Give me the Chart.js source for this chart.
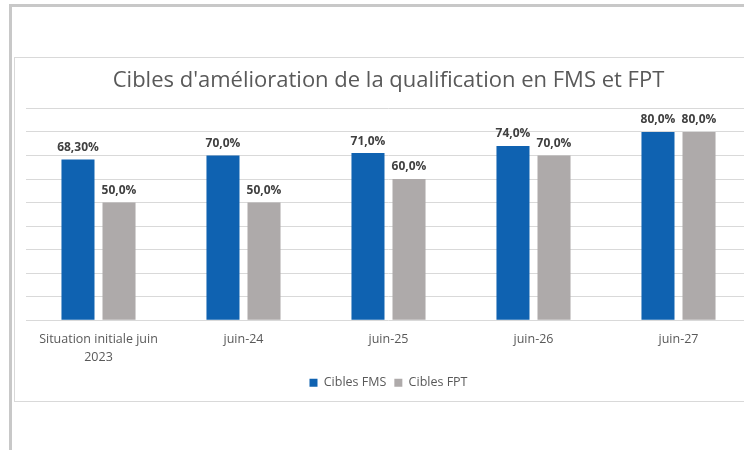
<!DOCTYPE html>
<html>
<head>
<meta charset="utf-8">
<script src="https://cdn.jsdelivr.net/npm/chart.js@4/dist/chart.umd.min.js"></script>
<style>
    html, body { margin: 0; padding: 0; background: #ffffff; overflow: hidden; }
    body { width: 744px; height: 450px; position: relative; }
    .frame {
        position: absolute; left: 9px; top: 4px; width: 760px; height: 460px;
        border-left: 3px solid #c8c8c8; border-top: 3px solid #c8c8c8;
    }
    .box {
        position: absolute; left: 14px; top: 57px; width: 760px; height: 343px;
        border: 1px solid #d9d9d9; background: #ffffff;
    }
    .box canvas { position: absolute; left: 0; top: 0; }
</style>
</head>
<body>
<div class="frame"></div>
<div class="box">
    <canvas id="qualifChart" width="742" height="341"></canvas>
</div>
<script>
    // Data
    const categories = [['Situation initiale juin', '2023'], 'juin-24', 'juin-25', 'juin-26', 'juin-27'];
    const fmsValues = [68.3, 70, 71, 74, 80];
    const fptValues = [50, 50, 60, 70, 80];
    const fmsLabels = ['68,30%', '70,0%', '71,0%', '74,0%', '80,0%'];
    const fptLabels = ['50,0%', '50,0%', '60,0%', '70,0%', '80,0%'];
    const yTicks = [0, 10, 20, 30, 40, 50, 60, 70, 80, 90];

    const colors = {
        fms: '#0F62B1',
        fpt: '#AEAAAA',
        text: '#595959',
        label: '#404040',
        grid: '#D9D9D9'
    };

    const fontFamily = "'Open Sans', Lato, sans-serif";

    // Value labels drawn above each bar
    const barLabels = {
        id: 'barLabels',
        afterDatasetsDraw(chart) {
            const ctx = chart.ctx;
            ctx.save();
            ctx.font = 'bold 12px ' + fontFamily;
            ctx.fillStyle = colors.label;
            ctx.textAlign = 'center';
            ctx.textBaseline = 'bottom';
            chart.data.datasets.forEach(function(ds, i) {
                const meta = chart.getDatasetMeta(i);
                meta.data.forEach(function(bar, j) {
                    ctx.fillText(ds.valueLabels[j], bar.x, bar.y - 6);
                });
            });
            ctx.restore();
        }
    };

    const ctx = document.getElementById('qualifChart').getContext('2d');
    new Chart(ctx, {
        type: 'bar',
        data: {
            labels: categories,
            datasets: [{
                label: 'Cibles FMS',
                data: fmsValues,
                valueLabels: fmsLabels,
                backgroundColor: colors.fms,
                categoryPercentage: 0.566,
                barPercentage: 0.805
            }, {
                label: 'Cibles FPT',
                data: fptValues,
                valueLabels: fptLabels,
                backgroundColor: colors.fpt,
                categoryPercentage: 0.566,
                barPercentage: 0.805
            }]
        },
        options: {
            responsive: false,
            animation: false,
            layout: {
                padding: { left: 11, right: 6, top: 4, bottom: 0 }
            },
            plugins: {
                title: {
                    display: true,
                    text: "Cibles d'amélioration de la qualification en FMS et FPT",
                    color: colors.text,
                    font: { family: fontFamily, size: 22, weight: 'normal' },
                    padding: { top: 6, bottom: 14 }
                },
                legend: {
                    position: 'bottom',
                    labels: {
                        color: colors.text,
                        font: { family: fontFamily, size: 12.5 },
                        boxWidth: 8,
                        boxHeight: 8,
                        padding: 8
                    }
                },
                tooltip: { enabled: false }
            },
            scales: {
                x: {
                    grid: { display: false },
                    border: { display: false },
                    ticks: {
                        color: colors.text,
                        font: { family: fontFamily, size: 12.5, lineHeight: 1.45 },
                        maxRotation: 0,
                        padding: 2
                    }
                },
                y: {
                    min: 0,
                    max: 90,
                    afterBuildTicks: function(axis) {
                        axis.ticks = yTicks.map(function(v) { return { value: v }; });
                    },
                    grid: { color: colors.grid, lineWidth: 1, drawTicks: false },
                    border: { display: false },
                    ticks: { display: false }
                }
            }
        },
        plugins: [barLabels]
    });
</script>
</body>
</html>
